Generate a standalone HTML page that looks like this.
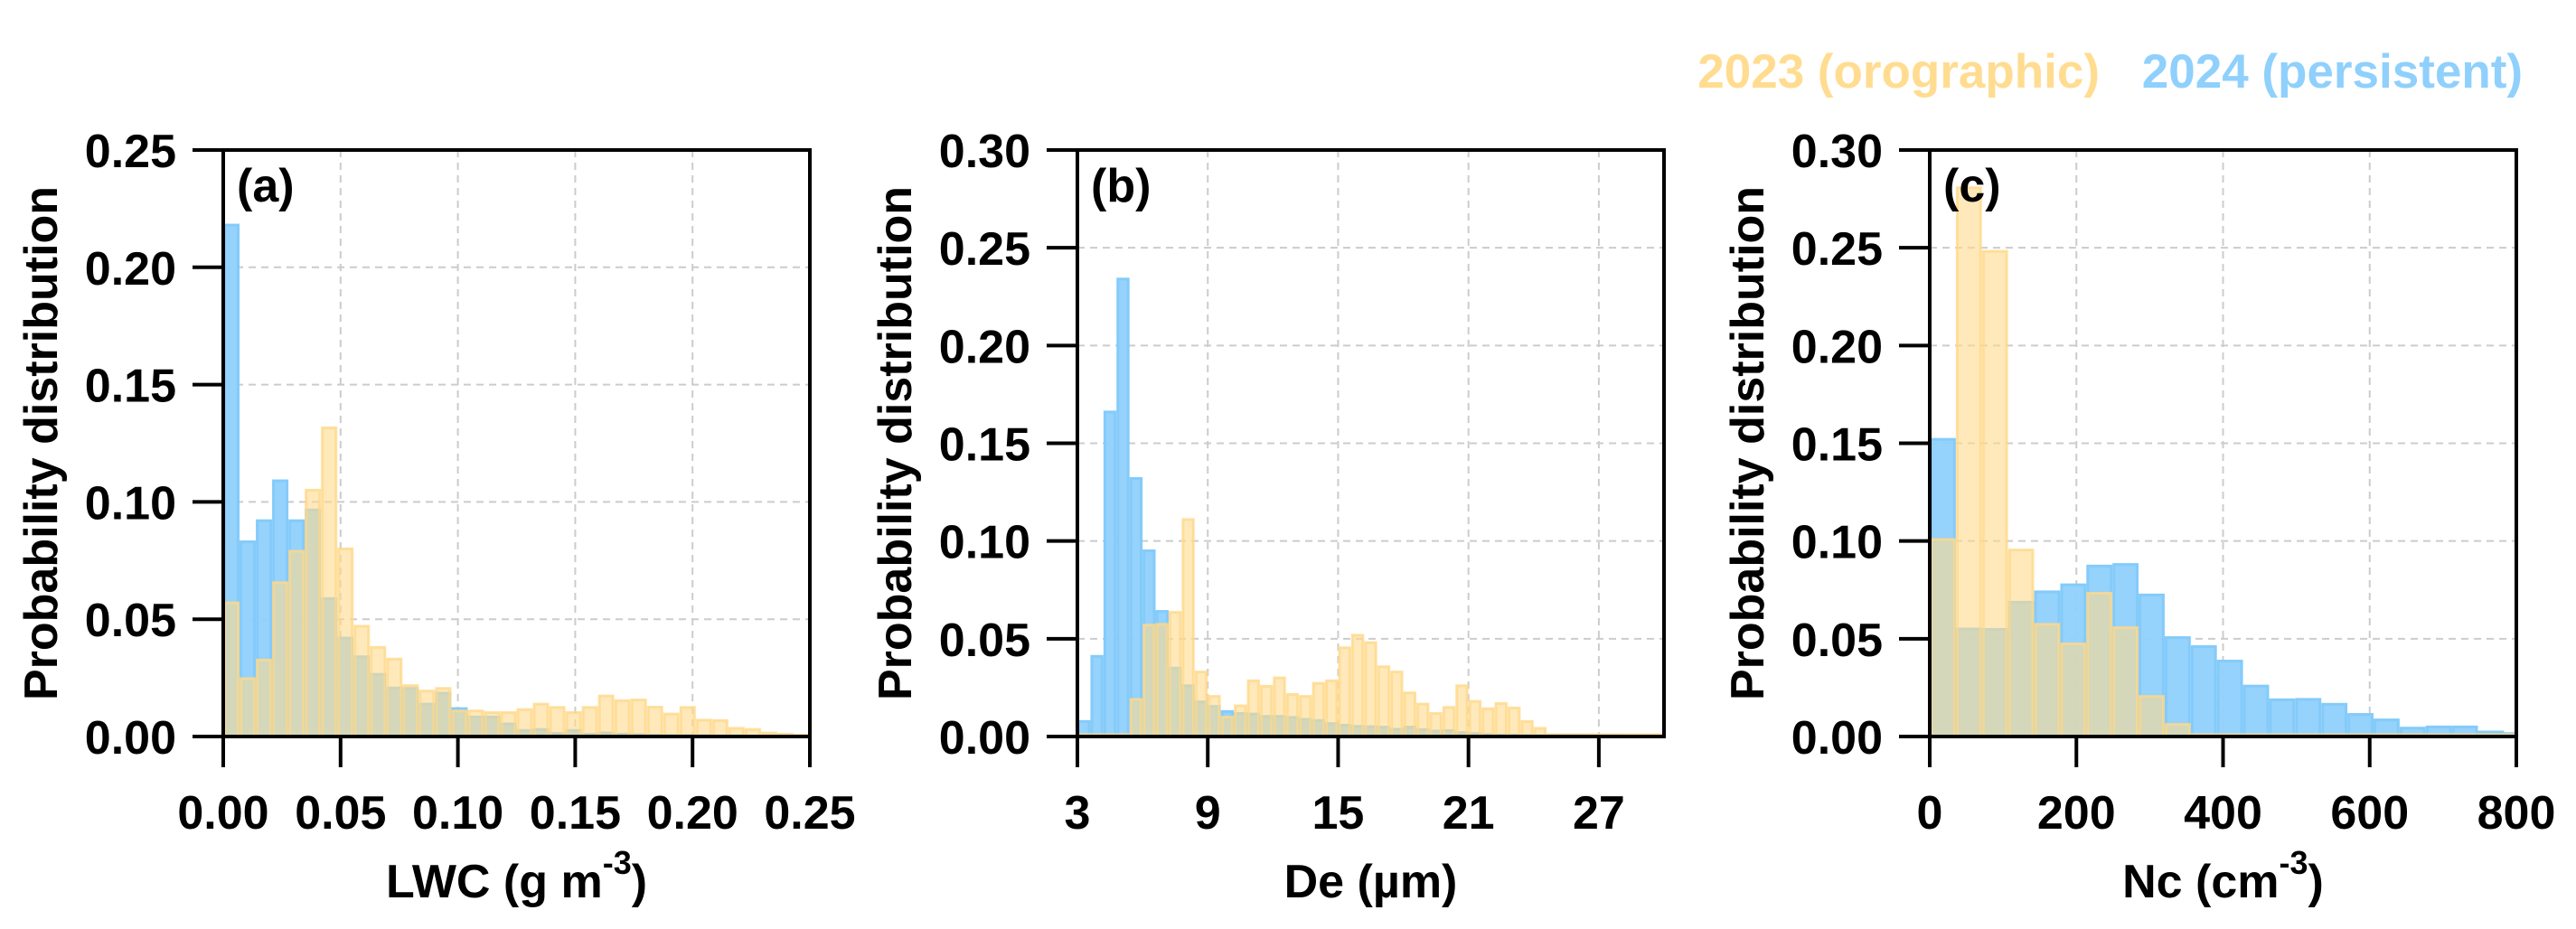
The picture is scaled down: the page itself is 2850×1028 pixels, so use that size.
<!DOCTYPE html>
<html><head><meta charset="utf-8"><style>
html,body{margin:0;padding:0;background:#fff}
svg{display:block;font-family:"Liberation Sans",Arial,sans-serif;font-weight:bold}
</style></head><body>
<svg id="chart" width="2850" height="1028" viewBox="0 0 2850 1028" xmlns="http://www.w3.org/2000/svg">
<g>
<text x="2323" y="97" font-size="53" fill="#ffdc90" text-anchor="end">2023 (orographic)</text>
<text x="2791" y="97" font-size="53" fill="#8fd0fc" text-anchor="end">2024 (persistent)</text>
</g>
</svg>
<script>
// Panel (a) LWC
const lwcRange = [0, 0.25];
const lwcBlue2024 = [0.218,0.083,0.092,0.109,0.092,0.0966,0.0588,0.042,0.034,0.0265,0.0207,0.0205,0.0138,0.0185,0.0119,0.0083,0.0083,0.0054,0.0026,0.003,0.0013,0.0026,0.001,0.0015,0.001,0.0008,0.0006,0.0005,0.0005,0.0004,0.0003,0.0003,0.0002,0.0002,0.0001,0.0001];
const lwcOrange2023 = [0.057,0.0247,0.0326,0.0656,0.079,0.105,0.1316,0.080,0.047,0.038,0.033,0.0217,0.0194,0.0205,0.0109,0.0109,0.0102,0.0102,0.0115,0.0138,0.0124,0.0102,0.0124,0.0173,0.0153,0.0156,0.0125,0.0096,0.0124,0.007,0.0068,0.0035,0.003,0.0015,0.001,0.0006];
const lwcXTicks = ["0.00","0.05","0.10","0.15","0.20","0.25"];
const lwcXTickVals = [0,0.05,0.10,0.15,0.20,0.25];
const lwcYTicks = ["0.00","0.05","0.10","0.15","0.20","0.25"];
const lwcYTickVals = [0,0.05,0.10,0.15,0.20,0.25];
// Panel (b) De
const deRange = [3, 30];
const deBinStart = 3, deBinWidth = 0.6;
const deBlue2024 = [0.0077,0.041,0.166,0.234,0.132,0.095,0.064,0.035,0.026,0.0177,0.0154,0.0128,0.0118,0.0115,0.0103,0.0103,0.0098,0.0088,0.0082,0.0066,0.0058,0.0052,0.005,0.0048,0.0037,0.0048,0.0035,0.0028,0.003,0.002,0.0015,0.001,0.0008,0.0008,0.0006,0.0005,0.0005,0.0004,0.0004,0.0003,0.0003,0.0003,0.0002,0.0002,0.0002];
const deOrange2023 = [0.001,0.001,0.001,0.001,0.019,0.057,0.0574,0.0635,0.111,0.033,0.0205,0.010,0.0157,0.0285,0.0257,0.030,0.0215,0.0205,0.0272,0.0285,0.0454,0.0518,0.048,0.0357,0.033,0.0223,0.0166,0.0118,0.0149,0.026,0.018,0.0142,0.0169,0.0146,0.0077,0.0042,0.001,0.001,0.001,0.001,0.001,0.001,0.001,0.001,0.001];
const deXTicks = ["3","9","15","21","27"];
const deXTickVals = [3,9,15,21,27];
const yTicks30 = ["0.00","0.05","0.10","0.15","0.20","0.25","0.30"];
const yTickVals30 = [0,0.05,0.10,0.15,0.20,0.25,0.30];
// Panel (c) Nc
const ncRange = [0, 800];
const ncBinWidth = 35.6;
const ncBlue2024 = [0.152,0.055,0.0548,0.0687,0.074,0.0776,0.0872,0.088,0.0724,0.0506,0.046,0.0386,0.0258,0.0188,0.019,0.0165,0.0113,0.0085,0.0043,0.0049,0.0049,0.0023,0.0015];
const ncOrange2023 = [0.1008,0.2807,0.2482,0.0954,0.0574,0.0474,0.0733,0.0557,0.0205,0.0062,0.001,0.001,0.001,0.001,0.001,0.001,0.001,0.001,0.001,0.001,0.001,0.001,0.001];
const ncXTicks = ["0","200","400","600","800"];
const ncXTickVals = [0,200,400,600,800];

const NS = "http://www.w3.org/2000/svg";
const svg = document.getElementById('chart');
function mk(tag, attrs, parent){ const e=document.createElementNS(NS,tag); for(const k in attrs) e.setAttribute(k,attrs[k]); (parent||svg).appendChild(e); return e; }

const TOP=166, BOT=815, W=649;
function panel(opt){
  const g = mk('g',{});
  
  
  const L=opt.left, R=L+W;
  const xs = v => L + (v-opt.xr[0])/(opt.xr[1]-opt.xr[0])*W;
  const ys = v => BOT - v/opt.ymax*(BOT-TOP);
  // grid
  opt.yv.forEach((v,i)=>{ if(v>0 && v<opt.ymax){ const l=mk('line',{x1:L,x2:R,y1:ys(v),y2:ys(v),stroke:'#cccccc','stroke-width':2,'stroke-dasharray':'8 6'},g);
      }});
  opt.xv.forEach((v,i)=>{ if(v>opt.xr[0] && v<opt.xr[1]){ const l=mk('line',{x1:xs(v),x2:xs(v),y1:TOP,y2:BOT,stroke:'#cccccc','stroke-width':2,'stroke-dasharray':'8 6'},g);
      }});
  // bars
  function bars(arr, fill, stroke, op, name){
    arr.forEach((v,i)=>{
      const x0=opt.b0+i*opt.bw; let x1=x0+opt.bw; if(x1>opt.xr[1]) x1=opt.xr[1];
      const y=ys(v);
      const r=mk('rect',{x:xs(x0)+1.5,y:y,width:Math.max(0,xs(x1)-xs(x0)-3),height:BOT-y,fill:fill,stroke:stroke,'stroke-width':3,'fill-opacity':op,'stroke-opacity':Math.min(1,op+0.2)},g);
      
      
    });
  }
  bars(opt.blue,'#8fd0fc','#84cbfa',0.95,'series-2024');
  bars(opt.orange,'#ffda8c','#ffd88a',0.6,'series-2023');
  // frame
  const f=mk('rect',{x:L,y:TOP,width:W,height:BOT-TOP,fill:'none',stroke:'#000','stroke-width':4},g);
   
  // y ticks
  opt.yv.forEach((v,i)=>{
    mk('line',{x1:L-34,x2:L,y1:ys(v),y2:ys(v),stroke:'#000','stroke-width':4},g);
    const t=mk('text',{x:L-52,y:ys(v)+19,'font-size':52,'text-anchor':'end'},g); t.textContent=opt.yl[i];
     
  });
  opt.xv.forEach((v,i)=>{
    mk('line',{x1:xs(v),x2:xs(v),y1:BOT,y2:BOT+34,stroke:'#000','stroke-width':4},g);
    const t=mk('text',{x:xs(v),y:917,'font-size':52,'text-anchor':'middle'},g); t.textContent=opt.xl[i];
     
  });
  const yt=mk('text',{x:0,y:0,'font-size':52,'text-anchor':'middle',transform:`translate(${L-184},${(TOP+BOT)/2}) rotate(-90)`},g);
  yt.textContent='Probability distribution';
   
  const xt=mk('text',{x:L+W/2,y:993,'font-size':52,'text-anchor':'middle'},g);
   
  xt.innerHTML=opt.xtitle;
  const pl=mk('text',{x:L+15,y:TOP+57,'font-size':52},g); pl.textContent='('+opt.id+')';
   
}
panel({id:'a',left:247,xr:lwcRange,ymax:0.25,b0:0,bw:0.25/36,blue:lwcBlue2024,orange:lwcOrange2023,xv:lwcXTickVals,xl:lwcXTicks,yv:lwcYTickVals,yl:lwcYTicks,
  xtitle:'LWC (g m<tspan dy="-26" font-size="36">-3</tspan><tspan dy="26">)</tspan>'});
panel({id:'b',left:1192,xr:deRange,ymax:0.30,b0:deBinStart,bw:deBinWidth,blue:deBlue2024,orange:deOrange2023,xv:deXTickVals,xl:deXTicks,yv:yTickVals30,yl:yTicks30,
  xtitle:'De (µm)'});
panel({id:'c',left:2135,xr:ncRange,ymax:0.30,b0:0,bw:ncBinWidth,blue:ncBlue2024,orange:ncOrange2023,xv:ncXTickVals,xl:ncXTicks,yv:yTickVals30,yl:yTicks30,
  xtitle:'Nc (cm<tspan dy="-26" font-size="36">-3</tspan><tspan dy="26">)</tspan>'});
</script>
</body></html>
